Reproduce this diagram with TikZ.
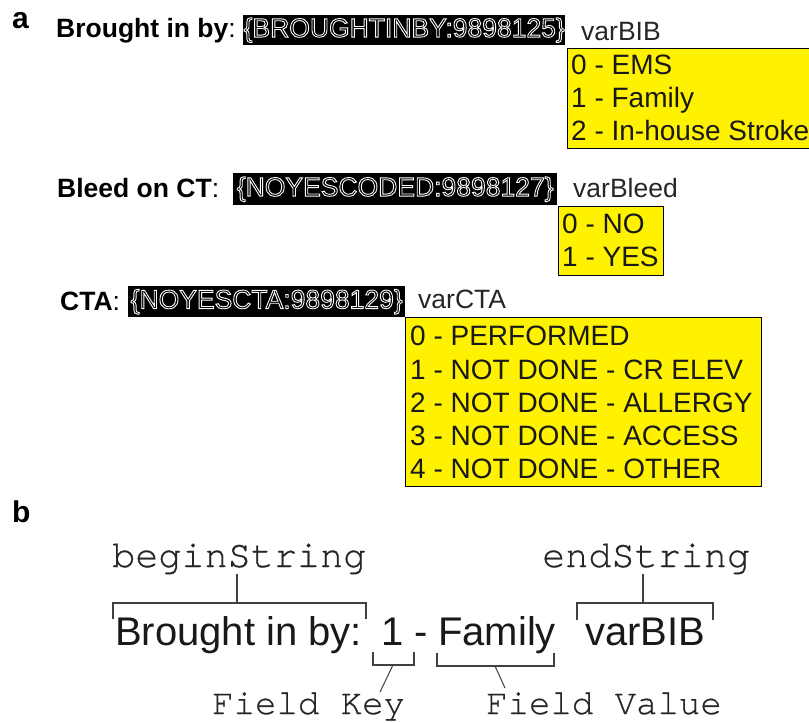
\documentclass[tikz,border=0pt]{standalone}
\usepackage{fontspec}
\setmainfont{Liberation Sans}
\newfontfamily\codefont[FakeBold=0.6]{TeX Gyre Cursor}
% outlined (hollow) glyphs: stroke the glyph outlines in white
\newcommand\hollowtext[1]{\special{pdf:code q 1 Tr 1 1 1 RG 0.9 w}#1\special{pdf:code Q}}
\begin{document}
\begin{tikzpicture}[x=1pt,y=-1pt,
  panel/.style={font=\fontsize{30}{32}\selectfont\bfseries, inner sep=0pt, anchor=base west},
  fieldlbl/.style={font=\fontsize{26.5}{30}\selectfont, inner sep=0pt, anchor=base west},
  varlbl/.style={font=\fontsize{26.5}{30}\selectfont, inner sep=0pt, anchor=base west, text=black!85},
  blackbox/.style={fill=black, text=white, inner sep=0pt, anchor=north west,
    font=\fontsize{26.5}{30}\selectfont},
  ybox/.style={fill=yellow, draw=black!90!blue, line width=1.3pt, inner sep=0pt, anchor=north west},
  yitem/.style={font=\fontsize{28}{30}\selectfont, inner sep=0pt, anchor=base west, text=black!90},
  codelbl/.style={font=\codefont\fontsize{38.5}{40}\selectfont, inner sep=0pt, anchor=base west, text=black!85},
  smallcode/.style={font=\codefont\fontsize{35.7}{40}\selectfont, inner sep=0pt, anchor=base west, text=black!85},
  bigtext/.style={font=\fontsize{40}{44}\selectfont, inner sep=0pt, anchor=base west, text=black!90},
  brace/.style={draw=black!75, line width=1.4pt},
]
\useasboundingbox (0,0) rectangle (809,723);
\clip (0,0) rectangle (809,723);

% ---------------- panel a ----------------
\node[panel] (pa) at (12,28) {a};

% Brought in by
\node[fieldlbl] (l1) at (56,37) {\textbf{Brought in by}:};
\node[blackbox, minimum width=322pt, minimum height=30pt] (t1) at (243,15)
  {\hollowtext{\{BROUGHTINBY:9898125\}}};
\node[varlbl] (v1) at (581,40) {varBIB};
\node[ybox, minimum width=260pt, minimum height=100pt] (y1) at (567,48) {};
\node[yitem] (y1a) at (571,74) {0 - EMS};
\node[yitem] (y1b) at (571,107) {1 - Family};
\node[yitem] (y1c) at (571,140) {2 - In-house Stroke};

% Bleed on CT
\node[fieldlbl] (l2) at (57,197) {\textbf{Bleed on CT}:};
\node[blackbox, minimum width=324pt, minimum height=32pt] (t2) at (233,173)
  {\hollowtext{\{NOYESCODED:9898127\}}};
\node[varlbl] (v2) at (573,197) {varBleed};
\node[ybox, minimum width=105pt, minimum height=69pt] (y2) at (558,206) {};
\node[yitem] (y2a) at (562,233) {0 - NO};
\node[yitem] (y2b) at (562,266) {1 - YES};

% CTA
\node[fieldlbl] (l3) at (60,310) {\textbf{CTA}:};
\node[blackbox, minimum width=277pt, minimum height=31pt] (t3) at (128,286)
  {\hollowtext{\{NOYESCTA:9898129\}}};
\node[varlbl] (v3) at (418,308) {varCTA};
\node[ybox, minimum width=356pt, minimum height=169pt] (y3) at (405,317) {};
\node[yitem] (y3a) at (410,345) {0 - PERFORMED};
\node[yitem] (y3b) at (410,379) {1 - NOT DONE - CR ELEV};
\node[yitem] (y3c) at (410,412) {2 - NOT DONE - ALLERGY};
\node[yitem] (y3d) at (410,445) {3 - NOT DONE - ACCESS};
\node[yitem] (y3e) at (410,478) {4 - NOT DONE - OTHER};

% ---------------- panel b ----------------
\node[panel] (pb) at (12,522) {b};

\node[codelbl] (bs) at (112,567) {beginString};
\node[codelbl] (es) at (542,567) {endString};

\node[bigtext] (bb) at (115,645) {Brought in by:};
\node[bigtext] (key) at (381,645) {1};
\node[bigtext] (dash) at (414,645) {-};
\node[bigtext] (val) at (438,645) {Family};
\node[bigtext] (vb) at (585,645) {varBIB};

\node[smallcode] (fk) at (212,714) {Field Key};
\node[smallcode] (fv) at (486,714) {Field Value};

% bracket over the begin string
\coordinate (bsL) at (113,619);
\coordinate (bsR) at (366,619);
\coordinate (bsM) at (237,603);
\draw[brace] (bsL) |- (bsM) -| (bsR);
\draw[brace] (bsM |- bs.south) -- (bsM);

% bracket over the end string
\coordinate (esL) at (577,620);
\coordinate (esR) at (713,620);
\coordinate (esM) at (643,603);
\draw[brace] (esL) |- (esM) -| (esR);
\draw[brace] (esM |- es.south) -- (esM);

% bracket under the field key
\coordinate (fkL) at (373,652);
\coordinate (fkR) at (414,652);
\coordinate (fkM) at (393,665);
\coordinate (fkT) at (380,692);
\draw[brace] (fkL) |- (fkM) -| (fkR);
\draw[draw=black!75, line width=1pt] (fkM) -- (fkT);

% bracket under the field value
\coordinate (fvL) at (437,653);
\coordinate (fvR) at (554,653);
\coordinate (fvM) at (495,666);
\coordinate (fvT) at (505,688);
\draw[brace] (fvL) |- (fvM) -| (fvR);
\draw[draw=black!75, line width=1pt] (fvM) -- (fvT);
\end{tikzpicture}
\end{document}
